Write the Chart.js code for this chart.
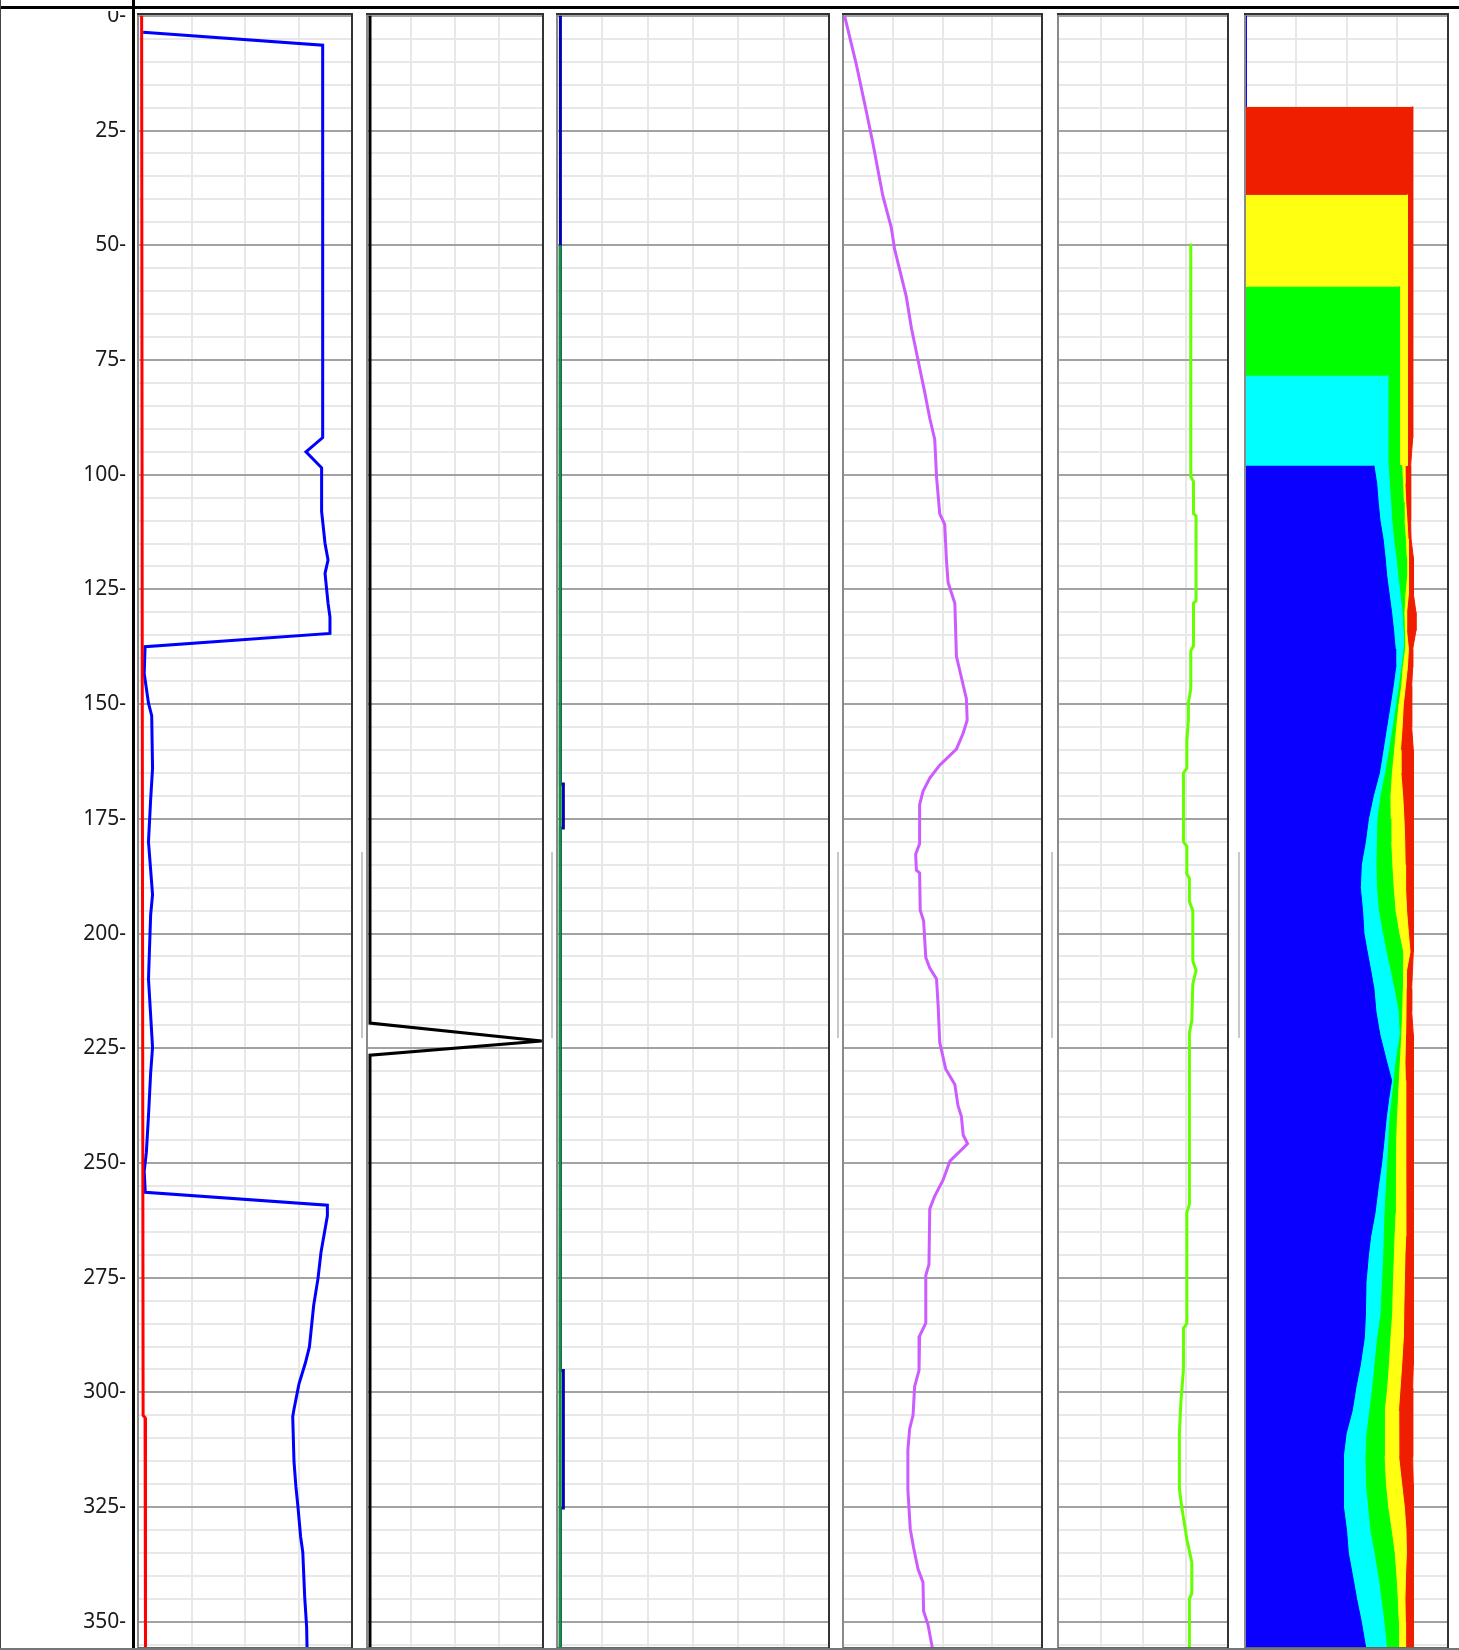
<!DOCTYPE html>
<html>
<head>
<meta charset="utf-8">
<script src="https://cdn.jsdelivr.net/npm/chart.js@4.4.1/dist/chart.umd.min.js"></script>
<style>
  html, body { margin: 0; padding: 0; background: #fff; }
  body { width: 1459px; height: 1650px; position: relative; overflow: hidden; }
  canvas.track { position: absolute; top: 11px; }
  .line { position: absolute; background: #000; z-index: 5; }
  .handle { position: absolute; top: 852px; width: 2px; height: 186px; background: #c8c8c8; z-index: 5; }
</style>
</head>
<body>
<canvas class="track" id="t1" width="353" height="1639" style="left:0px"></canvas>
<canvas class="track" id="t2" width="178" height="1639" style="left:366px"></canvas>
<canvas class="track" id="t3" width="274" height="1639" style="left:556px"></canvas>
<canvas class="track" id="t4" width="201" height="1639" style="left:842px"></canvas>
<canvas class="track" id="t5" width="172" height="1639" style="left:1057px"></canvas>
<canvas class="track" id="t6" width="205" height="1639" style="left:1244px"></canvas>

<div class="line" style="left:0;top:6px;width:1459px;height:3px"></div>
<div class="line" style="left:132px;top:0;width:3px;height:1650px"></div>
<div class="line" style="left:0;top:0;width:1px;height:1650px;background:#444"></div>
<div class="line" style="left:0;top:1648px;width:1459px;height:2px;background:#777"></div>
<div class="handle" style="left:361px"></div>
<div class="handle" style="left:551px"></div>
<div class="handle" style="left:837px"></div>
<div class="handle" style="left:1051px"></div>
<div class="handle" style="left:1238px"></div>

<script>
// depth axis
const depthMin = -0.4;
const depthMax = 355.7;
const depthStep = 5;
const depthLabelStep = 25;

// track 1
const t1BlueDepth = [3.6, 6.4, 91.9, 95, 98.5, 108, 115, 118.6, 121.5, 128, 131, 134.6, 137.5, 143.3, 149.8, 152.5, 164, 170.9, 180, 191.5, 196, 209.9, 224.8, 230.5, 239.7, 247.7, 251.8, 256.4, 259.2, 261.5, 269.5, 275.2, 281, 290.1, 293.6, 298.2, 303.9, 305.3, 315.1, 320.6, 325.2, 331.5, 334.8, 344.6, 351.1, 355.7];
const t1BlueValue = [2.4, 86.3, 86.3, 78.5, 85.8, 85.8, 87.4, 88.8, 87.4, 88.8, 89.7, 89.7, 3.3, 2.9, 4.9, 6.4, 6.8, 5.9, 4.9, 6.8, 5.9, 4.9, 6.8, 5.9, 4.9, 3.9, 2.9, 3.4, 88.5, 88.5, 85.5, 84.1, 82.1, 80.1, 78.2, 75.2, 72.8, 72.3, 72.9, 73.8, 74.8, 76.0, 77.0, 77.9, 78.8, 79.0];
const t1RedDepth = [0, 150, 305, 305.5, 356];
const t1RedValue = [1.7, 2.0, 2.4, 3.3, 3.5];

// track 2
const t2Depth = [0, 219.5, 223.4, 226.5, 356];
const t2Value = [1.7, 1.7, 99.3, 1.7, 1.7];

// track 3
const t3BlueDepth = [0, 167.4, 167.4, 177, 177, 295.2, 295.2, 325.2, 325.2, 356];
const t3BlueValue = [1.5, 1.5, 2.8, 2.8, 1.5, 1.5, 2.8, 2.8, 1.5, 1.5];
const t3GreenDepth = [50, 356];
const t3GreenValue = [1.4, 1.4];

// track 4
const t4Depth = [0, 10.4, 20.8, 27.7, 39.2, 46.2, 50.8, 61.2, 68.1, 75, 81.9, 87.7, 92.3, 100.4, 108.5, 110.8, 118.8, 123.5, 128, 139.6, 144.2, 148.8, 153.5, 156.3, 159.8, 163.3, 166.1, 169, 171.9, 180.4, 182.7, 186.2, 186.8, 194.9, 197.2, 205.2, 207.5, 209.9, 215.6, 223.7, 229.5, 232.9, 237.5, 239.9, 243.9, 245.8, 249.6, 253.7, 257.2, 260, 272.1, 274.5, 284.9, 287.7, 295.2, 298.7, 305, 307.9, 312.5, 321.2, 329.8, 333.9, 338.5, 341.4, 347.7, 350.6, 355.7];
const t4Value = [0.8, 6.6, 11.7, 15.0, 20.0, 24.3, 25.9, 31.8, 34.4, 37.7, 41.0, 43.6, 46.1, 47.0, 48.6, 51.1, 52.0, 52.8, 56.2, 57.0, 59.5, 62.0, 62.4, 60.4, 57.0, 48.6, 43.6, 40.2, 38.5, 38.5, 36.5, 36.9, 38.5, 38.8, 40.5, 41.6, 43.6, 47.0, 47.8, 48.6, 51.6, 56.2, 57.8, 59.5, 60.4, 62.6, 53.7, 50.3, 46.1, 43.6, 43.2, 41.6, 41.6, 38.5, 38.2, 36.0, 35.2, 33.5, 32.6, 32.6, 33.8, 35.5, 37.7, 40.2, 40.5, 42.7, 44.9];

// track 5
const t5Depth = [49.6, 100.4, 101.5, 108.5, 109, 127.5, 128, 137.3, 138.4, 146.7, 149.7, 153.5, 158, 164, 165, 180, 181, 187, 188, 193, 195, 206, 208, 211, 219, 221.6, 259, 260.8, 285, 286, 295, 302, 309, 321, 325, 332, 337, 343.8, 345, 355.7];
const t5Value = [78.1, 78.1, 79.7, 79.7, 81.2, 81.2, 79.7, 79.7, 78.1, 78.1, 76.7, 76.7, 75.8, 75.8, 73.8, 73.8, 75.8, 75.8, 77.3, 77.3, 79.3, 79.3, 81.2, 79.3, 78.7, 77.3, 77.3, 75.8, 75.8, 73.8, 73.8, 72.3, 71.4, 71.4, 72.8, 75.8, 78.7, 78.7, 77.3, 77.3];

// track 6 (cumulative boundaries, null = no data)
const t6Depth = [0, 19.8, 19.8, 39, 59, 78.4, 92, 98, 98, 102, 106, 110, 114, 118, 122, 126, 130, 134, 138, 142, 146, 150, 155, 160, 165, 170, 175, 180, 185, 190, 195, 200, 204, 208, 212, 217, 222, 228, 232, 236, 240, 245, 250, 255, 261, 266, 270, 276, 283, 288, 294, 299, 304, 309, 314, 320, 325, 330, 335, 341, 345, 350, 356];
const t6Blue = [0.6, 0.6, null, null, null, null, null, null, 63.5, 64.9, 65.6, 66.5, 68.0, 69.0, 69.8, 71.0, 72.2, 73.2, 74.0, 74.2, 73.0, 71.6, 69.8, 68.0, 66.2, 63.2, 60.8, 59.3, 57.3, 56.8, 57.9, 58.6, 60.2, 61.9, 63.5, 64.5, 66.4, 69.8, 72.2, 70.8, 69.6, 68.5, 67.3, 65.7, 64.0, 61.9, 60.8, 59.6, 59.3, 58.8, 56.8, 54.6, 52.8, 49.8, 48.4, 48.4, 48.6, 50.0, 50.9, 53.4, 55.0, 57.3, 59.6];
const t6Cyan = [null, null, null, null, null, 70.3, 70.3, 70.3, 70.6, 71.1, 71.8, 72.3, 73.2, 74.4, 75.3, 76.4, 77.4, 77.9, 77.9, 76.8, 75.6, 74.2, 72.5, 70.7, 68.8, 66.5, 65.0, 64.7, 64.5, 64.8, 65.7, 67.8, 69.5, 71.5, 73.4, 75.5, 76.0, 73.9, 73.0, 72.0, 71.0, 70.4, 69.8, 69.2, 68.5, 68.1, 67.9, 67.2, 66.5, 64.9, 63.5, 62.4, 61.0, 59.6, 59.1, 59.4, 60.4, 61.5, 63.6, 65.8, 67.0, 68.4, 69.8];
const t6Green = [null, null, null, null, 76.0, 76.0, 76.0, 76.0, 77.2, 77.6, 78.0, 78.3, 79.0, 79.4, 79.6, 78.8, 78.3, 78.5, 78.6, 77.4, 76.7, 75.4, 74.2, 73.2, 72.1, 71.4, 71.5, 71.8, 72.3, 73.0, 73.9, 75.8, 77.7, 77.5, 77.4, 77.2, 76.7, 76.0, 75.5, 75.1, 74.6, 74.2, 73.9, 73.9, 73.9, 73.4, 73.1, 72.6, 72.2, 71.4, 70.6, 69.8, 68.6, 68.5, 68.5, 69.2, 70.3, 72.0, 73.5, 74.5, 75.0, 75.5, 75.5];
const t6Yellow = [null, null, null, 80.0, 80.0, 80.0, 80.0, 80.0, 78.5, 78.8, 79.2, 79.8, 80.3, 80.5, 80.5, 80.5, 79.6, 79.6, 80.5, 80.0, 79.0, 78.0, 77.4, 76.6, 76.8, 77.7, 78.3, 78.7, 78.9, 79.1, 79.6, 80.5, 81.3, 79.6, 79.4, 79.3, 79.1, 78.8, 79.0, 79.2, 79.3, 79.3, 79.3, 79.1, 79.0, 78.9, 78.8, 78.5, 78.2, 78.0, 77.2, 76.4, 75.6, 75.6, 75.8, 77.2, 78.5, 79.3, 79.5, 79.0, 78.8, 79.0, 79.1];
const t6Red = [null, null, 82.6, 82.6, 82.6, 82.6, 82.6, 81.6, 81.6, 81.6, 81.6, 81.6, 81.8, 82.9, 82.9, 83.0, 84.2, 84.2, 82.6, 82.6, 82.1, 82.1, 82.1, 82.9, 82.9, 82.9, 82.9, 82.9, 82.9, 82.9, 82.9, 82.9, 82.9, 82.5, 82.1, 82.1, 82.9, 82.9, 82.9, 82.9, 82.9, 82.9, 82.9, 82.9, 82.9, 82.9, 82.9, 82.9, 82.9, 82.9, 82.9, 82.6, 82.6, 82.6, 82.6, 82.9, 82.9, 82.9, 82.9, 82.9, 82.9, 82.9, 82.9];

const points = (depths, values) => depths.map((d, i) => ({ x: values[i], y: d }));

const trackFrame = {
  id: 'trackFrame',
  afterDraw(chart) {
    const { ctx, chartArea: a } = chart;
    ctx.save();
    ctx.lineWidth = 2;
    ctx.strokeStyle = '#8a8a8a';
    ctx.beginPath(); ctx.moveTo(a.left, a.top); ctx.lineTo(a.left, a.bottom); ctx.stroke();
    ctx.strokeStyle = '#666';
    ctx.beginPath(); ctx.moveTo(a.left, a.bottom); ctx.lineTo(a.right, a.bottom); ctx.stroke();
    ctx.strokeStyle = '#333';
    ctx.beginPath(); ctx.moveTo(a.left - 1, a.top); ctx.lineTo(a.right, a.top); ctx.lineTo(a.right, a.bottom); ctx.stroke();
    ctx.restore();
  }
};

// no label overflow padding, so every track shares the same depth geometry
function noPad(s) {
  s.paddingTop = 0;
  s.paddingBottom = 0;
  s.paddingLeft = 0;
  s.paddingRight = 0;
}

function curve(depths, values, color, width) {
  return {
    data: points(depths, values),
    borderColor: color,
    borderWidth: width || 3,
    pointRadius: 0,
    fill: false,
    tension: 0
  };
}

function band(values, color) {
  return {
    data: points(t6Depth, values),
    borderColor: color,
    backgroundColor: color,
    borderWidth: 1,
    pointRadius: 0,
    fill: 'origin',
    tension: 0
  };
}

function makeTrack(id, xMax, xStep, datasets, labels) {
  new Chart(document.getElementById(id), {
    type: 'line',
    data: { datasets },
    plugins: [trackFrame],
    options: {
      responsive: false,
      animation: false,
      indexAxis: 'y',
      layout: { autoPadding: false, padding: { left: labels ? 0 : 1, right: 1, top: 3, bottom: 2 } },
      plugins: { legend: { display: false }, tooltip: { enabled: false } },
      scales: {
        x: {
          type: 'linear',
          position: 'top',
          min: 0,
          max: xMax,
          ticks: { display: false, stepSize: xStep },
          grid: { color: '#e8e8e8', lineWidth: 2, drawTicks: false },
          border: { display: false },
          afterFit: (s) => { s.height = 0; noPad(s); }
        },
        y: {
          type: 'linear',
          reverse: true,
          min: depthMin,
          max: depthMax,
          ticks: {
            display: labels,
            stepSize: depthStep,
            autoSkip: false,
            includeBounds: false,
            padding: 12,
            color: '#1a1a1a',
            font: { family: 'Noto Sans', size: 21 },
            callback: (v) => (v % depthLabelStep === 0 ? v + '-' : '')
          },
          grid: {
            drawTicks: false,
            lineWidth: 2,
            color: (c) => (c.tick && c.tick.value % depthLabelStep === 0 ? '#a2a2a2' : '#e8e8e8')
          },
          border: { display: false },
          afterFit: (s) => { s.width = labels ? 138 : 0; noPad(s); }
        }
      }
    }
  });
}

makeTrack('t1', 100, 25, [
  curve(t1RedDepth, t1RedValue, '#ff0000'),
  curve(t1BlueDepth, t1BlueValue, '#0000ff')
], true);

makeTrack('t2', 100, 25, [
  curve(t2Depth, t2Value, '#000000')
], false);

makeTrack('t3', 120, 20, [
  curve(t3GreenDepth, t3GreenValue, '#15903c'),
  curve(t3BlueDepth, t3BlueValue, '#0000b4')
], false);

makeTrack('t4', 100, 25, [
  curve(t4Depth, t4Value, '#cc5cff')
], false);

makeTrack('t5', 100, 25, [
  curve(t5Depth, t5Value, '#66ff00')
], false);

makeTrack('t6', 100, 25, [
  band(t6Blue, '#0a00ff'),
  band(t6Cyan, '#00ffff'),
  band(t6Green, '#00ff00'),
  band(t6Yellow, '#ffff12'),
  band(t6Red, '#f01e00')
], false);
</script>
</body>
</html>
